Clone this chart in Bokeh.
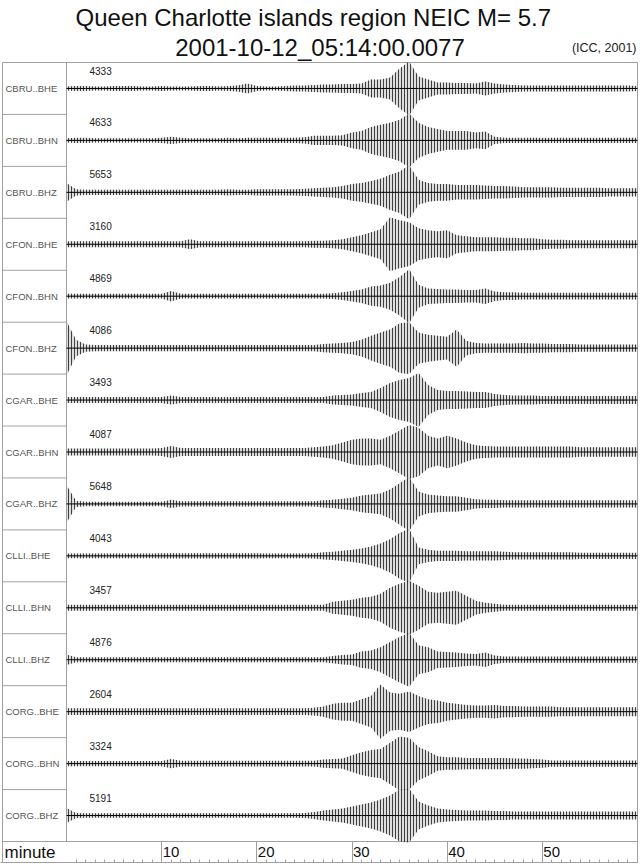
from bokeh.plotting import figure
from bokeh.models import Range1d, FixedTicker, LinearAxis
from bokeh.core.properties import value
from bokeh.embed import file_html
from bokeh.resources import INLINE
import numpy as np

# ---------------- data ----------------
TITLE_LINE_1 = "Queen Charlotte islands region  NEIC  M= 5.7"
TITLE_LINE_2 = "2001-10-12_05:14:00.0077"
CREDIT = "(ICC, 2001)"
X_AXIS_LABEL = "minute"
X_TICKS = [10, 20, 30, 40, 50]
X_MINOR_TICKS = list(range(1, 60))

STATIONS = ["CBRU..BHE", "CBRU..BHN", "CBRU..BHZ",
            "CFON..BHE", "CFON..BHN", "CFON..BHZ",
            "CGAR..BHE", "CGAR..BHN", "CGAR..BHZ",
            "CLLI..BHE", "CLLI..BHN", "CLLI..BHZ",
            "CORG..BHE", "CORG..BHN", "CORG..BHZ"]
PEAK_COUNTS = [4333, 4633, 5653, 3160, 4869, 4086, 3493, 4087,
               5648, 4043, 3457, 4876, 2604, 3324, 5191]

# sample times (minutes after origin) of the envelope readings
MINUTES = list(range(61))

# trace envelopes (half peak-to-peak, relative units) read every minute
ENV_CBRU_BHE = [2, 2.5, 2.5, 2, 2, 2.5, 2.5, 2.5, 2, 2,
                2.5, 2, 2, 2, 2.5, 2.5, 2, 2.5, 3, 5,
                2.5, 2, 2, 2.5, 3, 3, 3.5, 4, 4, 4.5,
                4.5, 5, 9, 9, 11, 20, 27, 12, 9, 6,
                6, 5.5, 5.5, 5, 7, 5, 4, 3.5, 3, 3,
                3, 3, 3, 3, 3, 3, 3, 3, 3, 3,
                2.5]
ENV_CBRU_BHN = [2, 2.5, 2.5, 2, 2, 2, 2, 2, 2, 2,
                2.5, 3.5, 2.5, 2, 2, 2, 2, 2.5, 2, 2.5,
                2.5, 2.5, 2.5, 2.5, 2.5, 3, 4.5, 4.5, 4.5, 5,
                7.5, 9, 13, 15, 17, 20, 26, 17, 13, 11,
                9, 9, 9, 7.5, 8.5, 3.5, 2.5, 2.5, 2.5, 2.5,
                2.5, 2.5, 2.5, 2.5, 2.5, 2.5, 2.5, 2.5, 2.5, 2.5,
                2.5]
ENV_CBRU_BHZ = [9, 3, 2.5, 2.5, 2.5, 2.5, 2.5, 2.5, 2.5, 2.5,
                2.5, 2.5, 2.5, 2.5, 2.5, 2.5, 2.5, 3, 2.5, 2.5,
                3, 3, 3, 3, 3, 3.5, 4, 4.5, 5, 6,
                8, 9, 11, 13, 17, 20, 26, 12, 9, 8,
                8, 7, 7, 7, 6.5, 6, 6, 5.5, 5, 5,
                5, 5, 4.5, 4.5, 4.5, 4.5, 4.5, 4, 4, 4,
                4]
ENV_CFON_BHE = [3, 3, 3, 3, 3, 3, 3, 3, 3, 3,
                3, 3, 3, 5, 3, 3, 3, 3, 3, 3,
                3, 3, 3, 3, 3, 3, 3.5, 3.5, 4, 5,
                7, 9, 12, 15, 27, 24, 22, 16, 14, 13,
                14, 9, 8, 7, 7, 7, 6.5, 6.5, 6, 6,
                5, 4.5, 4.5, 4, 4, 4, 4, 4, 4, 4,
                4]
ENV_CFON_BHN = [2.5, 2.5, 2.5, 2.5, 2.5, 2.5, 2.5, 2.5, 2.5, 2.5,
                2.5, 5.5, 2.5, 2.5, 2.5, 2.5, 2.5, 2.5, 2.5, 2.5,
                2.5, 2.5, 2.5, 2.5, 2.5, 2.5, 2.5, 2.5, 3, 4,
                5.5, 7, 10, 11, 14, 20, 28, 12, 8, 7.5,
                7, 7, 6.5, 6.5, 8, 5, 4, 4, 3.5, 3.5,
                3.5, 3.5, 3.5, 3.5, 3.5, 3.5, 3.5, 3.5, 3.5, 3.5,
                3.5]
ENV_CFON_BHZ = [26, 8, 3.5, 3, 3, 3, 3, 3, 3, 3,
                3, 3, 3, 3, 3, 3, 3, 3, 3, 3,
                3, 3, 3, 3, 3, 3, 3, 4, 4.5, 5,
                6, 8, 12, 15, 18, 24, 25, 15, 13, 12,
                11, 18, 7, 5, 4.5, 4.5, 4.5, 4.5, 5, 4.5,
                4.5, 4, 4, 4, 3.5, 3.5, 3.5, 3.5, 3.5, 3.5,
                3.5]
ENV_CGAR_BHE = [3, 3, 3, 3, 3, 3, 3, 3, 3, 3,
                3, 4.5, 3, 3, 3, 3, 3, 3, 3, 3,
                3, 3, 3, 3, 3, 3, 3, 3, 4.5, 5,
                5.5, 7, 8, 12, 17, 20, 22, 27, 15, 10,
                9, 9, 8.5, 8, 8, 6, 5, 4.5, 4.5, 4.5,
                4, 4, 4, 4, 4, 4, 4, 4, 4, 4,
                4]
ENV_CGAR_BHN = [2.5, 2.5, 2.5, 2.5, 2.5, 2.5, 2.5, 2.5, 2.5, 2.5,
                3, 4.5, 3, 3, 3, 3, 3, 3, 3, 3,
                3, 3, 3, 3, 3, 3, 3.5, 4, 5, 7,
                9, 10, 10, 9, 12, 16, 20, 18, 12, 10,
                12, 10, 7, 5, 4.5, 4, 4, 4, 4, 4,
                4, 4, 4, 4, 3.5, 3.5, 3.5, 3.5, 3.5, 3.5,
                3.5]
ENV_CGAR_BHZ = [18, 3, 2.2, 2.2, 2.2, 2.2, 2.2, 2.2, 2.2, 2.2,
                2.2, 4, 2.5, 2.5, 2.5, 2.5, 2.5, 2.5, 2.5, 2.5,
                2.5, 2.5, 2.5, 2.5, 2.5, 2.5, 2.5, 3.5, 4, 5,
                6, 8, 9, 10, 14, 20, 26, 12, 9, 8,
                7.5, 7.5, 6, 4.5, 4, 4, 3.5, 3.5, 3.5, 3.5,
                3.5, 3.5, 3.5, 3.5, 3.5, 3.5, 3.5, 3.5, 3.5, 3.5,
                3.5]
ENV_CLLI_BHE = [2.2, 2.2, 2.2, 2.2, 2.2, 2.2, 2.2, 2.2, 2.2, 2.2,
                2.5, 2.5, 2.5, 2.5, 2.5, 2.5, 2.5, 2.5, 2.5, 2.5,
                2.5, 2.2, 2.2, 2.2, 2.2, 2.2, 2.5, 3.5, 4, 5,
                6, 7, 9, 12, 16, 22, 26, 8, 6, 5,
                5, 5, 4.5, 4.5, 4.5, 4.5, 4, 3.5, 3.5, 3.5,
                3.5, 3.5, 3.5, 3.5, 3, 3, 3, 3, 3, 3,
                3]
ENV_CLLI_BHN = [3, 3, 3, 3, 3, 3, 3, 3, 3, 3,
                3, 3, 3, 3, 3, 3, 3, 3, 3, 3,
                3, 3, 3, 3, 3, 3, 3, 3, 6, 7,
                8, 10, 11, 14, 20, 24, 27, 22, 16, 15,
                16, 17, 12, 7, 5, 4, 3, 3, 3, 3,
                3, 3, 3, 3, 3, 3, 3, 3, 3, 3,
                3]
ENV_CLLI_BHZ = [5, 2.5, 2.5, 2.5, 2.5, 2.5, 2.5, 2.5, 2.5, 2.5,
                2.5, 2.5, 2.5, 2.5, 2.5, 2.5, 2.5, 2.5, 2.5, 2.5,
                2.5, 2.5, 2.5, 2.5, 2.5, 2.5, 2.5, 2.5, 3.5, 4.5,
                5, 8, 9, 12, 17, 22, 26, 14, 12, 8,
                7.5, 7, 6, 5.5, 7, 4, 3, 3, 3, 3,
                3, 3, 3, 3, 3, 3, 3, 3, 3, 3,
                3]
ENV_CORG_BHE = [3, 3, 3, 3, 3, 3, 3, 3, 3, 3,
                3, 3, 3, 3, 3, 3, 3, 3, 3, 3,
                3, 3, 3, 3, 3, 3, 3.5, 4.5, 7, 8,
                8, 11, 14, 24, 17, 16, 18, 14, 11, 10,
                8, 7, 6, 5.5, 5.5, 6, 5, 5, 4.5, 4.5,
                4.5, 4.5, 4, 4, 4, 4, 4, 4, 4, 4,
                4]
ENV_CORG_BHN = [2.5, 2.5, 2.5, 2.5, 2.5, 2.5, 2.5, 2.5, 2.5, 2.5,
                2.5, 4.5, 2.7, 2.7, 2.7, 2.7, 2.7, 2.7, 2.7, 2.7,
                2.7, 2.7, 2.7, 2.7, 2.7, 2.7, 2.7, 4, 4.5, 5,
                8, 11, 13, 14, 20, 26, 25, 16, 12, 7,
                6, 6, 5.5, 5.5, 5.5, 5.5, 5.5, 5, 5, 4.5,
                4, 3, 3, 3, 3, 3, 3, 3, 3, 3,
                3]
ENV_CORG_BHZ = [7.5, 2.5, 2.2, 2.2, 2.2, 2.2, 2.2, 2.2, 2.2, 2.2,
                2.2, 2.2, 2.2, 2.2, 2.2, 2.2, 2.2, 2.2, 2.2, 2.2,
                2.2, 2.2, 2.2, 2.2, 2.2, 2.5, 3.5, 5, 6, 7,
                9, 11, 13, 16, 20, 26, 27, 14, 10, 7,
                6, 5.5, 5, 5, 5, 4.5, 4.5, 4, 4, 4,
                4, 4, 4, 4, 4, 4, 4, 4, 4, 4,
                4]

ENVELOPES = [ENV_CBRU_BHE, ENV_CBRU_BHN, ENV_CBRU_BHZ,
             ENV_CFON_BHE, ENV_CFON_BHN, ENV_CFON_BHZ,
             ENV_CGAR_BHE, ENV_CGAR_BHN, ENV_CGAR_BHZ,
             ENV_CLLI_BHE, ENV_CLLI_BHN, ENV_CLLI_BHZ,
             ENV_CORG_BHE, ENV_CORG_BHN, ENV_CORG_BHZ]

# ---------------- layout ----------------
FONT = value("Liberation Sans")
GRID = "#a0a0a0"
FIG_W, FIG_H = 638, 865
BOTTOM_PX = 3          # room for the (label-less) axis panel
TITLE_PX = 62          # title band above the boxed area, inside the frame
LEFT_PAD_PX = 2        # blank strip left of the box
LABEL_COL_PX = 64
AXIS_ROW_PX = 21
N = len(STATIONS)

frame_h = FIG_H - BOTTOM_PX
plot_px = FIG_W - 1 - LEFT_PAD_PX - LABEL_COL_PX
px_per_min = plot_px / 60.0
x_start = -(LABEL_COL_PX + LEFT_PAD_PX) / px_per_min
x_end = 60 + 1.0 / px_per_min
x_box_left = -LABEL_COL_PX / px_per_min
row_px = (frame_h - TITLE_PX - AXIS_ROW_PX) / N
axis_rows = AXIS_ROW_PX / row_px
y_bottom = -axis_rows
y_top = N + TITLE_PX / row_px
peak_half = 0.52  # a trace's maximum fills about half a row

p = figure(width=FIG_W, height=FIG_H,
           x_range=Range1d(x_start, x_end), y_range=Range1d(y_bottom, y_top),
           x_axis_type=None, y_axis_type=None,
           toolbar_location=None, output_backend="svg",
           min_border_left=0, min_border_right=0,
           min_border_top=0, min_border_bottom=BOTTOM_PX,
           outline_line_color=None,
           background_fill_color="white", border_fill_color="white")

# titles
x_mid = (x_box_left + 60) / 2
p.text(x=[x_mid], y=[N], text=[TITLE_LINE_1], y_offset=-45,
       text_align="center", text_baseline="middle", text_font=FONT,
       text_font_size="24px", text_color="#111111")
p.text(x=[x_mid], y=[N], text=[TITLE_LINE_2], y_offset=-15,
       text_align="center", text_baseline="middle", text_font=FONT,
       text_font_size="24px", text_color="#111111")
p.text(x=[60], y=[N], text=[CREDIT], x_offset=-1, y_offset=-15,
       text_align="right", text_baseline="middle", text_font=FONT,
       text_font_size="12.5px", text_color="#222222")

# box lines
p.segment(x0=[x_box_left, x_box_left, 60, 0, x_box_left],
          y0=[N, y_bottom, y_bottom, 0, 0],
          x1=[60, x_box_left, 60, 0, 60],
          y1=[N, N, N, N, 0], line_color=GRID, line_width=1)
p.segment(x0=[x_box_left] * (N - 1), y0=list(range(1, N)),
          x1=[0] * (N - 1), y1=list(range(1, N)), line_color=GRID, line_width=1)

# traces
for i, env in enumerate(ENVELOPES):
    e = np.asarray(env, dtype=float)
    e = e / e.max() * peak_half
    c = N - 0.5 - i
    p.varea(x=MINUTES, y1=c - e, y2=c + e,
            fill_color="#a0a0a0", fill_alpha=0.35,
            hatch_pattern="vertical_line", hatch_color="#000000",
            hatch_alpha=0.9, hatch_scale=3, hatch_weight=0.8)
    p.line(x=MINUTES, y=[c] * len(MINUTES), line_color="#000000",
           line_width=1.0)

centers = [N - 0.5 - i for i in range(N)]
tops = [N - i for i in range(N)]
p.text(x=[x_box_left] * N, y=centers, text=STATIONS, x_offset=3,
       text_align="left", text_baseline="middle", text_font=FONT,
       text_font_size="9.5px", text_color="#555555")
p.text(x=[0] * N, y=tops, text=[str(v) for v in PEAK_COUNTS], x_offset=23,
       y_offset=8, text_align="left", text_baseline="middle", text_font=FONT,
       text_font_size="10px", text_color="#222222")

# x axis (ticks inside the bottom row)
ax = LinearAxis(ticker=FixedTicker(ticks=X_TICKS, minor_ticks=X_MINOR_TICKS),
                major_label_overrides={t: "" for t in X_TICKS})
ax.major_tick_in = AXIS_ROW_PX
ax.major_tick_out = 0
ax.minor_tick_in = 3
ax.minor_tick_out = 0
ax.major_label_standoff = 0
ax.major_label_text_font_size = "1px"
ax.axis_line_color = GRID
ax.major_tick_line_color = GRID
ax.minor_tick_line_color = GRID
p.add_layout(ax, "below")

p.text(x=X_TICKS, y=[-axis_rows / 2] * len(X_TICKS), text=[str(t) for t in X_TICKS],
       x_offset=1, text_align="left", text_baseline="middle", text_font=FONT,
       text_font_size="15px", text_color="#111111")
p.text(x=[x_box_left], y=[-axis_rows / 2], text=[X_AXIS_LABEL], x_offset=2,
       text_align="left", text_baseline="middle", text_font=FONT,
       text_font_size="17px", text_color="#111111")

open("out.html", "w").write(file_html(p, INLINE))
